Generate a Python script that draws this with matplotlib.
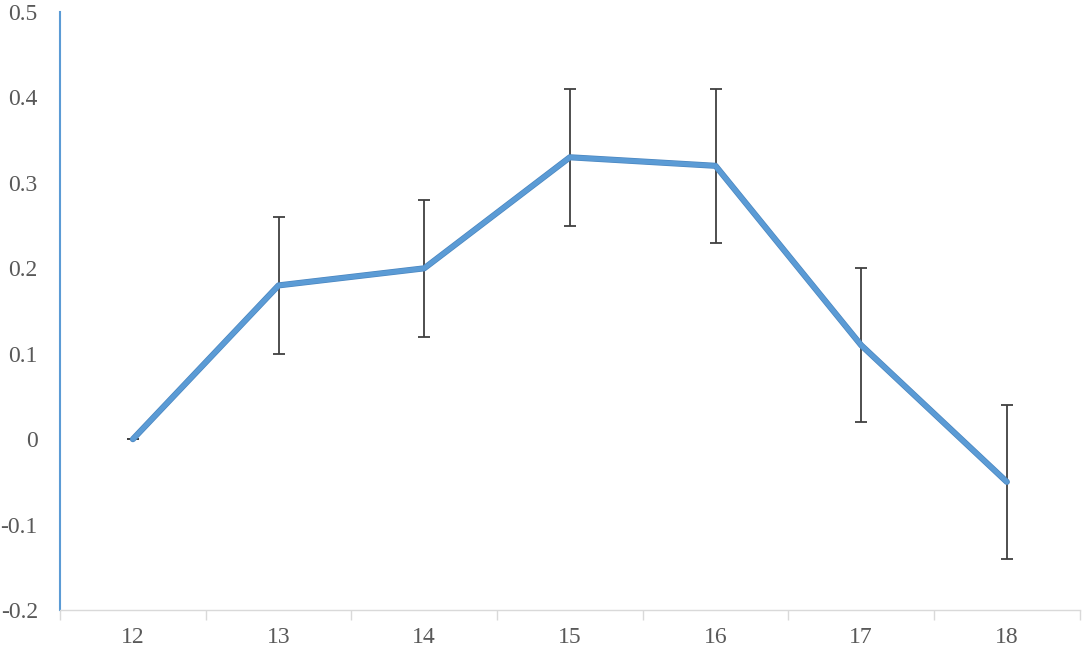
import matplotlib
matplotlib.use("Agg")
import matplotlib.pyplot as plt
import matplotlib.patheffects as pe
from matplotlib import font_manager
import numpy as np

ages = [12, 13, 14, 15, 16, 17, 18]
means = [0.0, 0.18, 0.20, 0.33, 0.32, 0.11, -0.05]
errors = [0.0, 0.08, 0.08, 0.08, 0.09, 0.09, 0.09]
y_ticks = [-0.2, -0.1, 0, 0.1, 0.2, 0.3, 0.4, 0.5]
y_labels = ["-0.2", "-0.1", "0", "0.1", "0.2", "0.3", "0.4", "0.5"]

# make sure the Times-like serif is picked up
serif_path = font_manager.findfont(
    font_manager.FontProperties(family="Liberation Serif"), fallback_to_default=True)
serif = font_manager.FontProperties(fname=serif_path, size=17)

fig = plt.figure(figsize=(10.84, 6.48), dpi=100)
ax = fig.add_axes([0.0554, 0.0586, 0.9406, 0.9228])

ax.errorbar(ages, means, yerr=errors, fmt="none", ecolor="#404040",
            elinewidth=1.3, capsize=4.5, capthick=1.3, zorder=2)
ax.plot(ages, means, color="#5B9BD5", linewidth=3.4,
        solid_capstyle="round", solid_joinstyle="round", zorder=3,
        path_effects=[pe.Stroke(linewidth=4.4, foreground="#4A86C0"), pe.Normal()])

ax.set_xlim(11.5, 18.5)
ax.set_ylim(-0.2, 0.5)

ax.set_yticks(y_ticks)
ax.set_yticklabels(y_labels, fontproperties=serif, color="#595959")
ax.tick_params(axis="y", length=0, pad=16)

ax.set_xticks(ages)
ax.set_xticklabels([str(a) for a in ages], fontproperties=serif, color="#595959")
ax.set_xticks(np.arange(11.5, 19, 1), minor=True)
ax.tick_params(axis="x", which="major", length=0, pad=12)
ax.tick_params(axis="x", which="minor", length=7, width=1, color="#D9D9D9",
               direction="out")

for side in ["top", "right"]:
    ax.spines[side].set_visible(False)
ax.spines["left"].set_color("#5B9BD5")
ax.spines["left"].set_linewidth(1.5)
ax.spines["bottom"].set_color("#D9D9D9")
ax.spines["bottom"].set_linewidth(1)

fig.savefig("out.png", dpi=100)
